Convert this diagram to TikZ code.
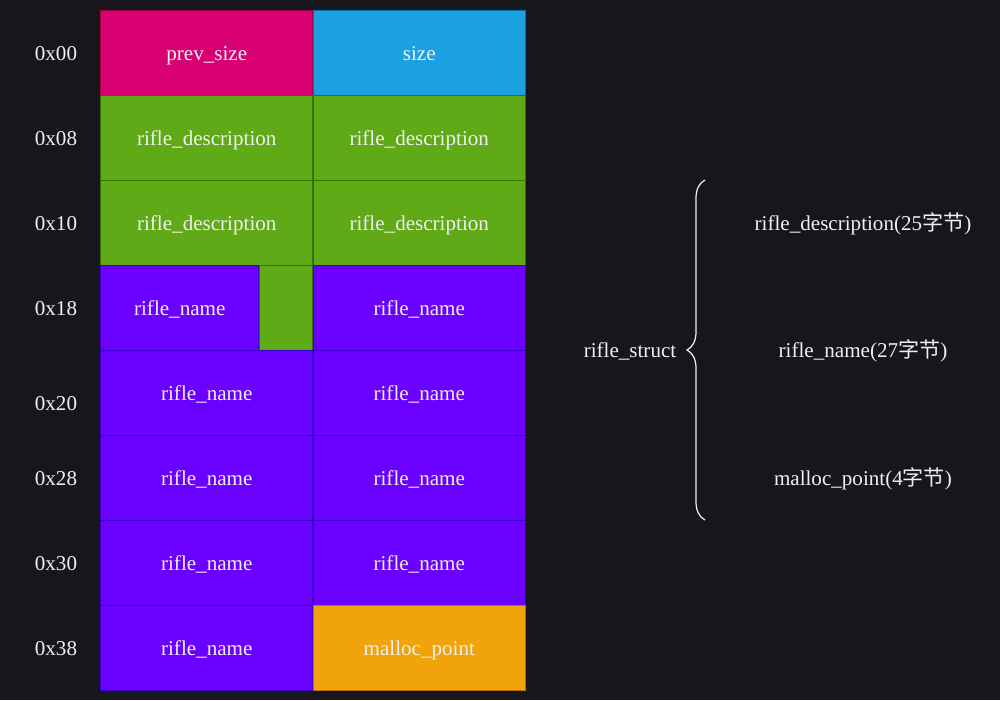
\documentclass[tikz,border=0pt]{standalone}
\usepackage{fontspec}
\setmainfont{Liberation Serif}
\newfontfamily\cjk{Noto Sans CJK SC}
\usetikzlibrary{decorations.pathreplacing}
\definecolor{bgdark}{HTML}{18161D}
\definecolor{txtlight}{HTML}{F0F0F0}
\definecolor{magfill}{HTML}{D80073}
\definecolor{magline}{HTML}{A50040}
\definecolor{bluefill}{HTML}{1BA1E2}
\definecolor{blueline}{HTML}{006EAF}
\definecolor{greenfill}{HTML}{60A917}
\definecolor{greenline}{HTML}{2D7600}
\definecolor{purplefill}{HTML}{6A00FF}
\definecolor{purpleline}{HTML}{3700CC}
\definecolor{orangefill}{HTML}{F0A30A}
\definecolor{orangeline}{HTML}{BD7000}
\tikzset{
  cell/.style={draw,line width=0.6pt,minimum width=4.25cm,minimum height=1.7cm,
    inner sep=0pt,anchor=north west,text=txtlight,
    text height=0.9em,text depth=0.1em},
  magcell/.style={cell,fill=magfill,draw=magline},
  bluecell/.style={cell,fill=bluefill,draw=blueline},
  greencell/.style={cell,fill=greenfill,draw=greenline},
  purplecell/.style={cell,fill=purplefill,draw=purpleline},
  orangecell/.style={cell,fill=orangefill,draw=orangeline},
  label/.style={text=txtlight,inner sep=1pt,text height=0.9em,text depth=0.1em}
}
\begin{document}
\begin{tikzpicture}[x=0.02cm,y=-0.02cm,font=\fontsize{12}{14}\selectfont]

\fill[bgdark] (0,0) rectangle (1000,700);

% \draw header row
\node[magcell] (prev) at (100,10) {prev\_size};
\node[bluecell] (size) at (312.5,10) {size};
% \draw description rows
\node[greencell] (descLa) at (100,95) {rifle\_description};
\node[greencell] (descRa) at (312.5,95) {rifle\_description};
\node[greencell] (descLb) at (100,180) {rifle\_description};
\node[greencell] (descRb) at (312.5,180) {rifle\_description};
% \draw split row
\node[purplecell,minimum width=3.17cm] (nameL0) at (100,265) {rifle\_name};
\node[greencell,minimum width=1.08cm] (descTail) at (258.5,265) {};
\node[purplecell] (nameR0) at (312.5,265) {rifle\_name};
% \draw name rows
\foreach \i/\y in {1/350,2/435,3/520} {
  \node[purplecell] (nameL\i) at (100,\y) {rifle\_name};
  \node[purplecell] (nameR\i) at (312.5,\y) {rifle\_name};
}
\node[purplecell] (nameL4) at (100,605) {rifle\_name};
\node[orangecell] (mptr) at (312.5,605) {malloc\_point};

% \draw offsets
\foreach \t/\y in {00/53,08/138,10/223,18/308,20/403,28/478,30/563,38/648}
  \node[label] (off\t) at (56,\y) {0x\t};

% \draw brace
\coordinate (braceBot) at (705,520);
\coordinate (braceTop) at (705,180);
\draw[txtlight,line width=0.7pt,
  decorate,decoration={brace,amplitude=0.36cm}] (braceBot) -- (braceTop);
\node[label] (struct) at (630,350) {rifle\_struct};
\node[label] (fieldDesc) at (863,223) {rifle\_description(25{\cjk 字节})};
\node[label] (fieldName) at (863,350) {rifle\_name(27{\cjk 字节})};
\node[label] (fieldPtr) at (863,478) {malloc\_point(4{\cjk 字节})};

\end{tikzpicture}
\end{document}
